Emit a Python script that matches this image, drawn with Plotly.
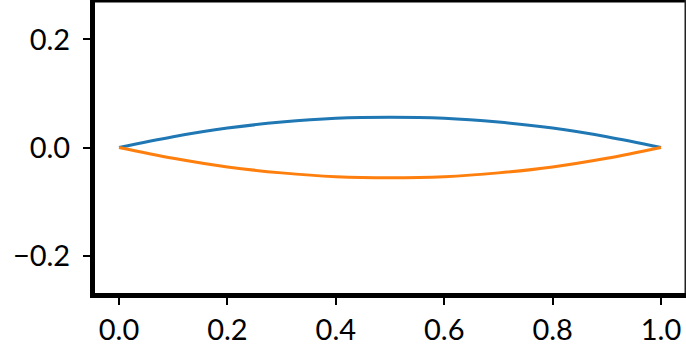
import plotly.graph_objects as go

x_vals = [0.0, 0.1, 0.2, 0.3, 0.4, 0.5, 0.6, 0.7, 0.8, 0.9, 1.0]
upper = [0.0, 0.020, 0.036, 0.047, 0.054, 0.056, 0.054, 0.047, 0.036, 0.020, 0.0]
lower = [0.0, -0.020, -0.036, -0.047, -0.054, -0.056, -0.054, -0.047, -0.036, -0.020, 0.0]

x_ticks = [0.0, 0.2, 0.4, 0.6, 0.8, 1.0]
x_ticktext = ["0.0", "0.2", "0.4", "0.6", "0.8", "1.0"]
y_ticks = [-0.2, 0.0, 0.2]
y_ticktext = ["\u22120.2", "0.0", "0.2"]

fig = go.Figure()
fig.add_trace(go.Scatter(x=x_vals, y=upper, mode="lines",
                         line=dict(color="#1f77b4", width=3, shape="spline", smoothing=1.0)))
fig.add_trace(go.Scatter(x=x_vals, y=lower, mode="lines",
                         line=dict(color="#ff7f0e", width=3, shape="spline", smoothing=1.0)))

font = dict(family="Lato, 'Noto Sans', sans-serif", size=29, color="black")

fig.update_layout(
    width=686, height=351,
    margin=dict(l=95, r=0, t=0, b=58),
    paper_bgcolor="white", plot_bgcolor="white",
    showlegend=False,
    font=font,
    xaxis=dict(range=[-0.0443, 1.0461], tickvals=x_ticks, ticktext=x_ticktext,
               showgrid=False, zeroline=False, showline=True, linecolor="black", linewidth=5,
               ticks="outside", ticklen=7, tickwidth=1.5, tickcolor="black", tickfont=font),
    yaxis=dict(range=[-0.2694, 0.2731], tickvals=y_ticks, ticktext=y_ticktext,
               showgrid=False, zeroline=False, showline=True, linecolor="black", linewidth=5,
               ticks="outside", ticklen=7, tickwidth=1.5, tickcolor="black", tickfont=font,
               ticklabelstandoff=7),
    shapes=[
        dict(type="line", xref="paper", yref="paper", x0=0, x1=1, y0=1, y1=1,
             line=dict(color="black", width=5)),
        dict(type="line", xref="paper", yref="paper", x0=1, x1=1, y0=0, y1=1,
             line=dict(color="#222222", width=3)),
    ],
)

fig.write_html("out.html", config={"displayModeBar": False},
               post_script="document.body.style.margin='0';document.body.style.padding='0';document.body.style.overflow='hidden';")
